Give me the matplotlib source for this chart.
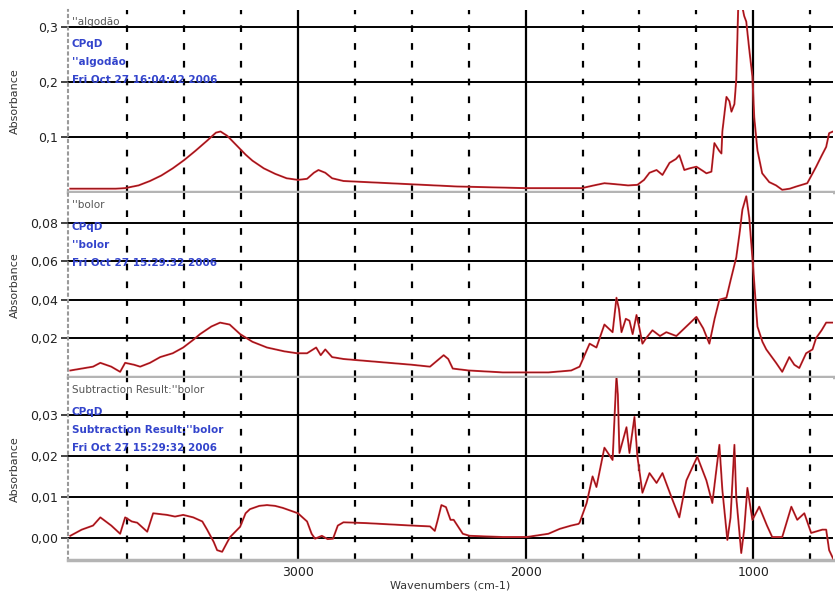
import numpy as np
import matplotlib
matplotlib.use("Agg")
import matplotlib.pyplot as plt
from matplotlib.ticker import FixedLocator, FuncFormatter

# Spectre du coton (algodão)
wn_top = [4000, 3900, 3800, 3760, 3700, 3650, 3600, 3550, 3500, 3450, 3400, 3360,
          3340, 3310, 3270, 3230, 3200, 3150, 3100, 3050, 3000, 2960, 2930, 2910,
          2880, 2850, 2800, 2700, 2600, 2500, 2400, 2300, 2200, 2100, 2000, 1900,
          1800, 1754, 1700, 1654, 1600, 1550, 1509, 1480, 1456, 1425, 1399, 1368,
          1340, 1325, 1303, 1280, 1250, 1220, 1206, 1184, 1171, 1150, 1140, 1136,
          1118, 1105, 1096, 1083, 1075, 1066, 1050, 1040, 1031, 1018, 1004, 996,
          982, 961, 930, 900, 873, 840, 811, 763, 724, 700, 680, 667, 650]
abs_top = [0.006, 0.006, 0.006, 0.007, 0.012, 0.020, 0.030, 0.043, 0.058, 0.075, 0.093, 0.108,
           0.110, 0.102, 0.085, 0.068, 0.057, 0.043, 0.033, 0.025, 0.022, 0.024, 0.035, 0.040,
           0.035, 0.025, 0.020, 0.018, 0.016, 0.014, 0.012, 0.010, 0.009, 0.008, 0.007, 0.007,
           0.007, 0.007, 0.012, 0.016, 0.014, 0.012, 0.013, 0.022, 0.035, 0.040, 0.031, 0.053,
           0.060, 0.067, 0.040, 0.043, 0.046, 0.038, 0.034, 0.037, 0.089, 0.075, 0.070, 0.110,
           0.173, 0.165, 0.146, 0.160, 0.204, 0.340, 0.340, 0.320, 0.310, 0.260, 0.210, 0.136,
           0.076, 0.034, 0.018, 0.012, 0.004, 0.006, 0.010, 0.016, 0.046, 0.066, 0.082, 0.107, 0.110]

# Spectre du bolor
wn_mid = [4000, 3950, 3900, 3868, 3820, 3781, 3759, 3720, 3693, 3650, 3605, 3550,
          3504, 3460, 3430, 3380, 3342, 3300, 3254, 3200, 3136, 3060, 3004, 2960,
          2920, 2900, 2880, 2850, 2800, 2700, 2600, 2500, 2420, 2390, 2360, 2340,
          2320, 2250, 2100, 2000, 1900, 1800, 1763, 1719, 1689, 1654, 1618, 1601,
          1590, 1579, 1560, 1544, 1530, 1513, 1500, 1487, 1470, 1443, 1410, 1382,
          1338, 1294, 1250, 1220, 1193, 1170, 1149, 1118, 1100, 1075, 1060, 1048,
          1031, 1018, 1004, 996, 982, 960, 943, 900, 873, 842, 820, 798, 768, 740,
          724, 700, 680, 658, 650]
abs_mid = [0.003, 0.004, 0.005, 0.007, 0.005, 0.0023, 0.007, 0.006, 0.005, 0.007, 0.010, 0.012,
           0.015, 0.019, 0.022, 0.026, 0.028, 0.027, 0.022, 0.018, 0.015, 0.013, 0.012, 0.012,
           0.015, 0.011, 0.014, 0.010, 0.009, 0.008, 0.007, 0.006, 0.005, 0.008, 0.011, 0.009,
           0.004, 0.003, 0.002, 0.002, 0.002, 0.003, 0.005, 0.017, 0.015, 0.027, 0.023, 0.041,
           0.035, 0.023, 0.030, 0.029, 0.022, 0.032, 0.025, 0.017, 0.020, 0.024, 0.021, 0.023,
           0.021, 0.026, 0.031, 0.025, 0.017, 0.030, 0.040, 0.041, 0.050, 0.062, 0.075, 0.087,
           0.094, 0.083, 0.062, 0.049, 0.026, 0.018, 0.014, 0.007, 0.0023, 0.010, 0.006, 0.0043,
           0.012, 0.014, 0.020, 0.024, 0.028, 0.028, 0.028]

# Résultat de la soustraction
wn_bot = [4000, 3950, 3900, 3868, 3820, 3781, 3759, 3730, 3706, 3662, 3636, 3575,
          3540, 3504, 3460, 3420, 3399, 3370, 3355, 3333, 3310, 3298, 3254, 3230,
          3211, 3170, 3136, 3100, 3066, 3000, 2960, 2940, 2925, 2895, 2870, 2846,
          2825, 2800, 2700, 2600, 2500, 2420, 2399, 2386, 2370, 2350, 2330, 2316,
          2276, 2246, 2100, 1996, 1900, 1850, 1800, 1768, 1763, 1732, 1706, 1689,
          1654, 1618, 1605, 1601, 1595, 1588, 1557, 1544, 1522, 1509, 1487, 1456,
          1425, 1399, 1360, 1325, 1294, 1246, 1206, 1180, 1149, 1136, 1114, 1100,
          1083, 1075, 1053, 1040, 1026, 1004, 974, 940, 917, 873, 833, 807, 776,
          746, 697, 680, 667, 650]
abs_bot = [0.0005, 0.002, 0.003, 0.005, 0.003, 0.001, 0.005, 0.004, 0.0037, 0.0015, 0.006, 0.0056,
           0.0052, 0.0056, 0.005, 0.004, 0.002, -0.001, -0.003, -0.0034, -0.001, 0.0002, 0.0027, 0.006,
           0.007, 0.0078, 0.008, 0.0078, 0.0073, 0.006, 0.004, 0.001, -0.0002, 0.0005, -0.0003, -0.0002,
           0.003, 0.0038, 0.0036, 0.0033, 0.003, 0.0028, 0.0017, 0.0044, 0.008, 0.0075, 0.0044, 0.0044,
           0.001, 0.0005, 0.0002, 0.0002, 0.001, 0.0022, 0.003, 0.0034, 0.0037, 0.0085, 0.015, 0.0124,
           0.022, 0.019, 0.035, 0.0395, 0.035, 0.0207, 0.027, 0.0207, 0.0295, 0.0198, 0.011, 0.0158,
           0.0134, 0.0158, 0.010, 0.005, 0.014, 0.0198, 0.014, 0.0085, 0.0227, 0.0117, -0.0005, 0.005,
           0.0227, 0.010, -0.0037, 0.002, 0.0122, 0.0044, 0.0076, 0.003, 0.0002, 0.0002, 0.0076, 0.0044, 0.006,
           0.0012, 0.002, 0.002, -0.003, -0.005]

yticks_top = [0.1, 0.2, 0.3]
yticks_mid = [0.02, 0.04, 0.06, 0.08]
yticks_bot = [0.00, 0.01, 0.02, 0.03]
ylim_top = (0.0, 0.331)
ylim_mid = (-0.0004, 0.0957)
ylim_bot = (-0.0054, 0.039)

major_x = [3000, 2000, 1000]
minor_x = [3750, 3500, 3250, 2750, 2500, 2250, 1750, 1500, 1250, 750]

notes_top = ["''algodão", "CPqD", "''algodão", "Fri Oct 27 16:04:42 2006"]
notes_mid = ["''bolor", "CPqD", "''bolor", "Fri Oct 27 15:29:32 2006"]
notes_bot = ["Subtraction Result:''bolor", "CPqD", "Subtraction Result:''bolor",
             "Fri Oct 27 15:29:32 2006"]

W, H = 835, 605
fig = plt.figure(figsize=(W / 100, H / 100), dpi=100)
fig.patch.set_facecolor("white")

def px_axes(top, bottom):
    return fig.add_axes([68 / W, 1 - bottom / H, (833 - 68) / W, (bottom - top) / H])

def comma(v, pos):
    if abs(v) < 1e-9:
        return "0,00"
    s = f"{v:.2f}" if v < 0.095 else f"{v:.1f}"
    return s.replace(".", ",")

panels = [
    (10, 192, wn_top, abs_top, ylim_top, yticks_top, notes_top),
    (193, 377, wn_mid, abs_mid, ylim_mid, yticks_mid, notes_mid),
    (378, 560, wn_bot, abs_bot, ylim_bot, yticks_bot, notes_bot),
]

for i, (t, b, wn, ab, yl, yt, notes) in enumerate(panels):
    ax = px_axes(t, b)
    ax.set_xlim(4010, 650)
    ax.set_ylim(*yl)
    for v in yt:
        ax.axhline(v, color="black", lw=1.4, zorder=1)
    for v in major_x:
        ax.axvline(v, color="black", lw=1.6, zorder=1)
    for v in minor_x:
        ax.axvline(v, color="black", lw=1.6, dashes=(3, 5), zorder=1)
    ax.plot(wn, ab, color="#d8303a", lw=1.4, zorder=3)
    ax.plot(wn, ab, color="#7a1010", lw=0.5, zorder=4)

    ax.yaxis.set_major_locator(FixedLocator(yt))
    ax.yaxis.set_major_formatter(FuncFormatter(comma))
    ax.tick_params(axis="y", length=5, width=1.2, labelsize=9, colors="#222222", pad=2)
    ax.xaxis.set_major_locator(FixedLocator(major_x))
    ax.tick_params(axis="x", length=0, labelsize=9, colors="#222222", pad=4)
    if i < 2:
        ax.tick_params(axis="x", labelbottom=False)
    for s in ["top", "right"]:
        ax.spines[s].set_visible(False)
    ax.spines["bottom"].set_color("#b4b4b4")
    ax.spines["bottom"].set_linewidth(2.5)
    ax.spines["left"].set_color("#9a9a9a")
    ax.spines["left"].set_linewidth(1.5)
    ax.spines["left"].set_linestyle((0, (1, 2)))

    fig.text(15 / W, 1 - ((t + b) / 2) / H, "Absorbance", rotation=90,
             ha="center", va="center", fontsize=8, color="#333333")

    # annotations en haut à gauche
    fig.text(72 / W, 1 - (t + 12) / H, notes[0], fontsize=7.5, color="#555555",
             va="center")
    for k, txt in enumerate(notes[1:]):
        fig.text(72 / W, 1 - (t + 34 + k * 18) / H, txt, fontsize=7.5, color="#3344cc",
                 fontweight="bold", va="center")

fig.text(450 / W, 1 - 586 / H, "Wavenumbers (cm-1)", ha="center", va="center",
         fontsize=8, color="#333333")

fig.savefig("out.png", dpi=100, facecolor="white")
